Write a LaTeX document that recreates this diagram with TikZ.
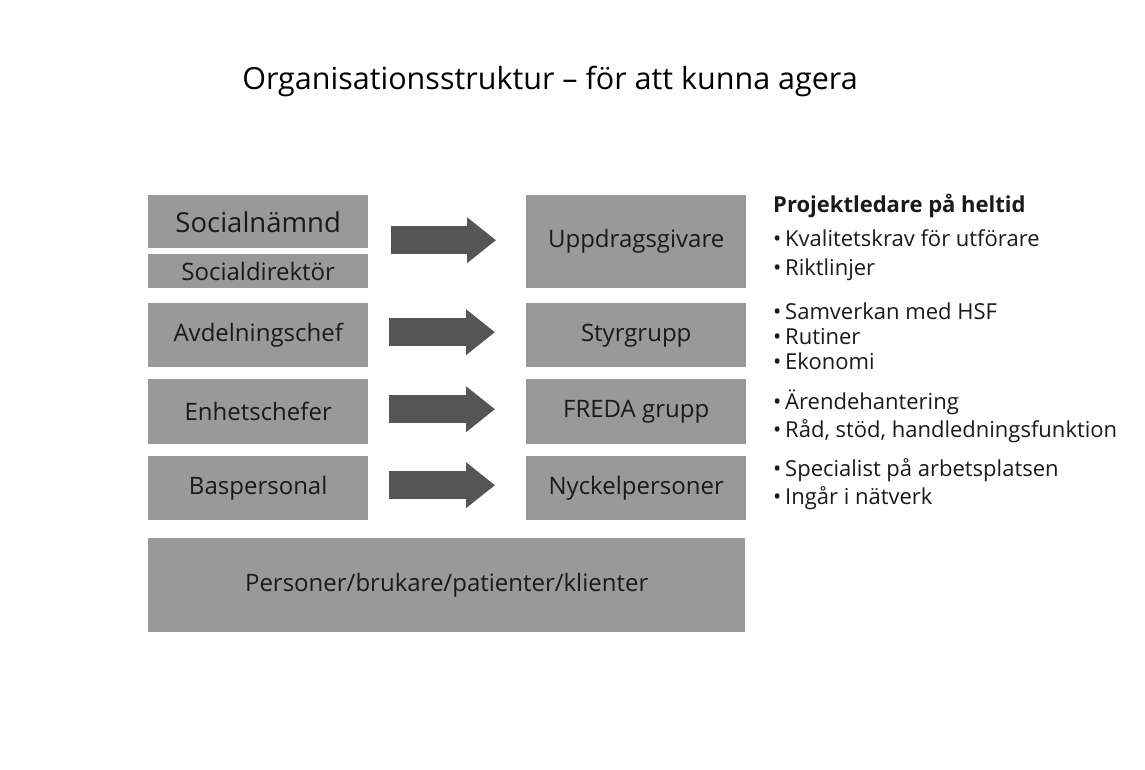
\documentclass[tikz,border=0pt]{standalone}
\usepackage{fontspec}
\setmainfont{Open Sans}
\usetikzlibrary{arrows.meta}
\definecolor{boxgray}{HTML}{999999}
\definecolor{arrowgray}{HTML}{555555}
\definecolor{txt}{HTML}{1A1A1A}
\newcommand\blt{\makebox[12pt][l]{•}}
\begin{document}
\begin{tikzpicture}[x=1pt,y=-1pt,
 box/.style={fill=boxgray, draw=none, inner sep=0pt, text=txt, minimum width=220pt, anchor=north west, font=\fontsize{24}{28}\selectfont},
 blockarrow/.style={draw=arrowgray, line width=28pt, -{Triangle[width=44pt,length=29pt]}},
 item/.style={anchor=base west, inner sep=0pt, text=txt, font=\fontsize{22}{26}\selectfont}]
\useasboundingbox[fill=white] (0,0) rectangle (1145,770);
\node[anchor=base, inner sep=0pt, font=\fontsize{30.5}{34}\selectfont] (title) at (550,90) {Organisationsstruktur – för att kunna agera};
\node[box, minimum height=53pt, font=\fontsize{27.5}{30}\selectfont] (sn) at (148,195) {Socialnämnd};
\node[box, minimum height=34pt] (sd) at (148,254) {Socialdirektör};
\node[box, minimum height=93pt] (ug) at (526,195) {Uppdragsgivare};
\node[box, minimum height=64pt] (ac) at (148,303) {Avdelningschef};
\node[box, minimum height=64pt] (sg) at (526,303) {Styrgrupp};
\node[box, minimum height=65pt] (ec) at (148,379) {Enhetschefer};
\node[box, minimum height=65pt] (fg) at (526,379) {FREDA grupp};
\node[box, minimum height=64pt] (bp) at (148,456) {Baspersonal};
\node[box, minimum height=64pt] (nk) at (526,456) {Nyckelpersoner};
\node[box, minimum height=94pt, minimum width=597pt] (pb) at (148,538) {Personer/brukare/patienter/klienter};
\draw[blockarrow] ([xshift=-135pt,yshift=1.5pt]ug.west) -- ([xshift=-30pt,yshift=1.5pt]ug.west);
\draw[blockarrow] ([xshift=-137pt,yshift=3pt]sg.west) -- ([xshift=-31pt,yshift=3pt]sg.west);
\draw[blockarrow] ([xshift=-137pt,yshift=2.5pt]fg.west) -- ([xshift=-31pt,yshift=2.5pt]fg.west);
\draw[blockarrow] ([xshift=-137pt,yshift=3pt]nk.west) -- ([xshift=-31pt,yshift=3pt]nk.west);
\node[item, font=\bfseries\fontsize{22}{26}\selectfont] (pl) at (773,212) {Projektledare på heltid};
\node[item] (i1) at (773,246) {\blt Kvalitetskrav för utförare};
\node[item] (i2) at (773,275) {\blt Riktlinjer};
\node[item] (i3) at (773,319) {\blt Samverkan med HSF};
\node[item] (i4) at (773,344) {\blt Rutiner};
\node[item] (i5) at (773,369) {\blt Ekonomi};
\node[item] (i6) at (773,409) {\blt Ärendehantering};
\node[item] (i7) at (773,437) {\blt Råd, stöd, handledningsfunktion};
\node[item] (i8) at (773,476) {\blt Specialist på arbetsplatsen};
\node[item] (i9) at (773,504) {\blt Ingår i nätverk};
\end{tikzpicture}
\end{document}
